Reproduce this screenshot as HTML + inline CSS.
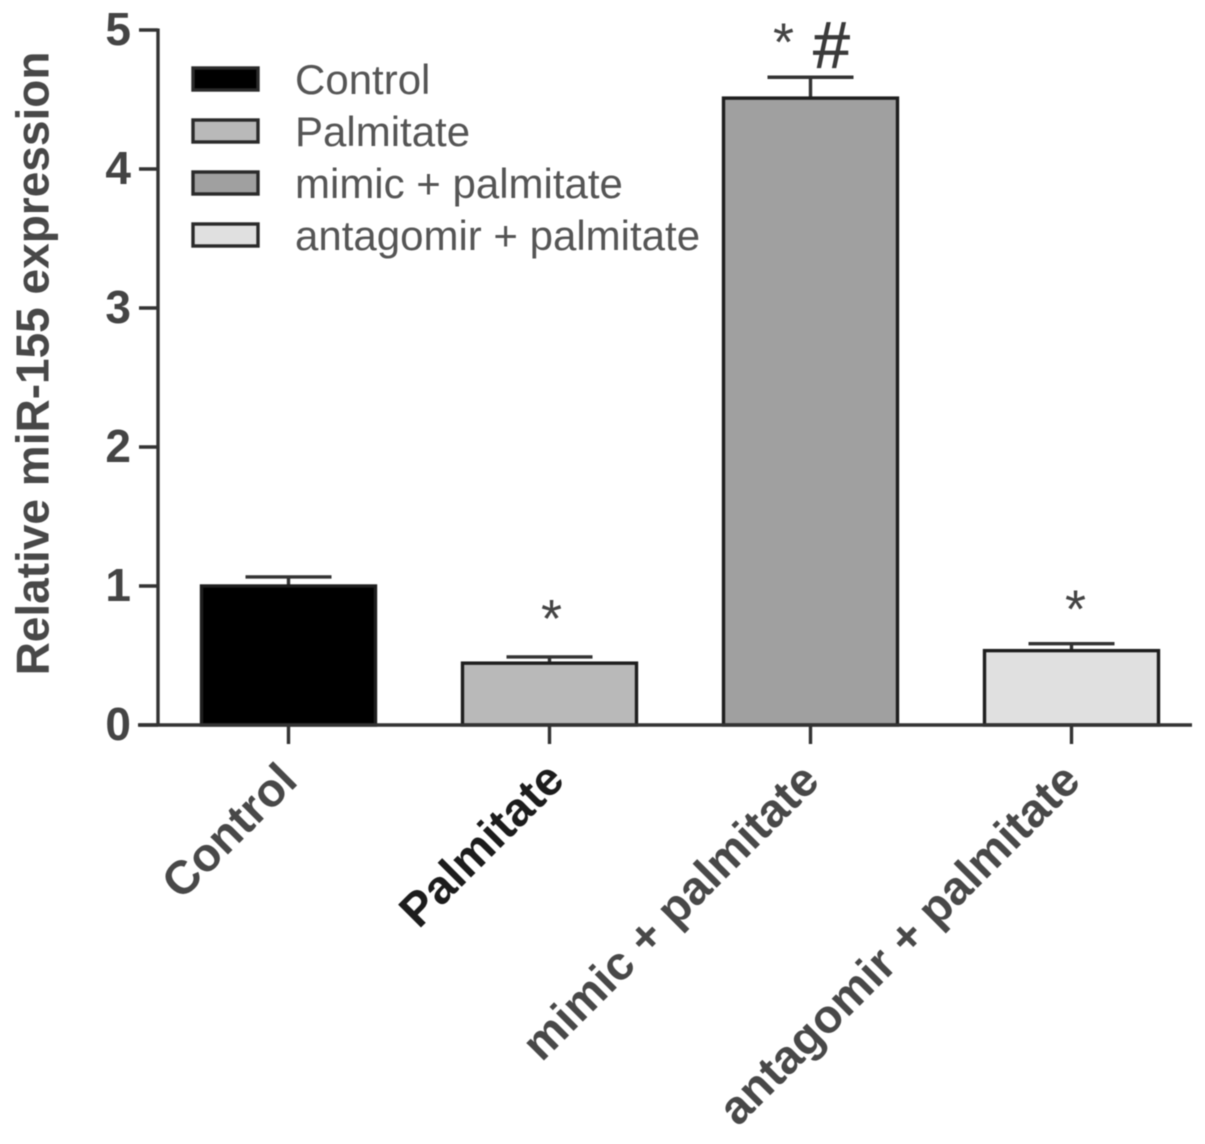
<!DOCTYPE html>
<html lang="en">
<head>
<meta charset="utf-8">
<title>Relative miR-155 expression</title>
<style>
html,body{margin:0;padding:0;background:#fff;}
#chart{display:block;width:1205px;height:1144px;filter:blur(0.6px);}
text{font-family:"Liberation Sans",sans-serif;}
</style>
</head>
<body>
<svg id="chart" xmlns="http://www.w3.org/2000/svg" width="1205" height="1144" viewBox="0 0 1205 1144"></svg>
<script>
const categories = ['Control', 'Palmitate', 'mimic + palmitate', 'antagomir + palmitate'];
const meanValues = [1.0, 0.445, 4.51, 0.535];
const errorValues = [0.065, 0.045, 0.15, 0.05];
const yTickLabels = [0, 1, 2, 3, 4, 5];
const barFills = ['#000000', '#b9b9b9', '#a0a0a0', '#e0e0e0'];
const significance = ['', '*', '* #', '*'];
const legendLabels = ['Control', 'Palmitate', 'mimic + palmitate', 'antagomir + palmitate'];
const yAxisTitle = 'Relative miR-155 expression';

const svg = document.getElementById('chart');
const NS = 'http://www.w3.org/2000/svg';
const INK = '#333333';
function yScale(v) { return 725 - v * 139; }
function xScale(i) { return 288.5 + i * 261; }
function add(tag, attrs, text) {
  const el = document.createElementNS(NS, tag);
  for (const k in attrs) el.setAttribute(k, attrs[k]);
  if (text !== undefined) el.textContent = text;
  svg.appendChild(el);
  return el;
}
function slug(s) { return s.replace(/[^a-zA-Z0-9]+/g, '-').toLowerCase(); }

categories.forEach(function (cat, i) {
  const cx = xScale(i);
  const top = yScale(meanValues[i]);
  const errTop = yScale(meanValues[i] + errorValues[i]);

  const stem = add('line', { x1: cx, x2: cx, y1: top, y2: errTop, stroke: INK, 'stroke-width': 3.4 });
  
  

  const cap = add('line', { x1: cx - 43, x2: cx + 43, y1: errTop, y2: errTop, stroke: INK, 'stroke-width': 3.4 });
  
  

  const bar = add('rect', { x: cx - 87, y: top, width: 174, height: yScale(0) - top, fill: barFills[i], stroke: '#1e1e1e', 'stroke-width': 3.4 });
  
  

  const tick = add('line', { x1: cx, x2: cx, y1: yScale(0), y2: yScale(0) + 19, stroke: INK, 'stroke-width': 3.4 });
  
  

  const lx = cx + (i === 1 ? 17 : 11);
  const ly = i === 1 ? 782 : 783;
  const label = add('text', { x: lx, y: ly, transform: 'rotate(-45 ' + lx + ' ' + ly + ')', 'text-anchor': 'end', 'font-size': 47, 'font-weight': 'bold', fill: i === 1 ? '#1c1c1c' : '#484848' }, cat);
  
  

  const marks = significance[i];
  if (marks === '*') {
    const star = add('text', { x: cx + (i === 3 ? 4 : 2), y: errTop - (i === 1 ? 20 : 16), 'text-anchor': 'middle', 'font-size': 54, fill: '#444' }, '*');
    
    
  } else if (marks) {
    const parts = marks.split(' ');
    const s1 = add('text', { x: cx - 27, y: errTop - 17, 'text-anchor': 'middle', 'font-size': 54, fill: '#444' }, parts[0]);
    
    
    const s2 = add('text', { x: cx + 21, y: errTop - 10, 'text-anchor': 'middle', 'font-size': 66, fill: '#3a3a3a', stroke: '#3a3a3a', 'stroke-width': 0.8 }, parts[1]);
    
    
  }
});

const yAxis = add('line', { x1: 158, x2: 158, y1: yScale(5) - 1.5, y2: yScale(0) + 1.5, stroke: INK, 'stroke-width': 3.4 });



const xAxis = add('line', { x1: 138, x2: 1192, y1: yScale(0), y2: yScale(0), stroke: INK, 'stroke-width': 3.4 });



yTickLabels.forEach(function (t) {
  const y = yScale(t);
  const tick = add('line', { x1: 139, x2: 158, y1: y, y2: y, stroke: INK, 'stroke-width': 3.4 });
  
  
  const label = add('text', { x: 131, y: y + 15, 'text-anchor': 'end', 'font-size': 46, 'font-weight': 'bold', fill: '#444' }, String(t));
  
  
});

const title = add('text', { x: 48.5, y: 363.5, transform: 'rotate(-90 48.5 363.5)', 'text-anchor': 'middle', 'font-size': 46, 'font-weight': 'bold', fill: '#484848' }, yAxisTitle);



legendLabels.forEach(function (name, i) {
  const y = 68 + i * 52;
  const swatch = add('rect', { x: 193, y: y, width: 65, height: 22, fill: barFills[i], stroke: '#2a2a2a', 'stroke-width': 3.4 });
  
  
  const label = add('text', { x: 295, y: y + 26, 'font-size': 42, fill: '#555' }, name);
  
  
});
</script>
</body>
</html>
